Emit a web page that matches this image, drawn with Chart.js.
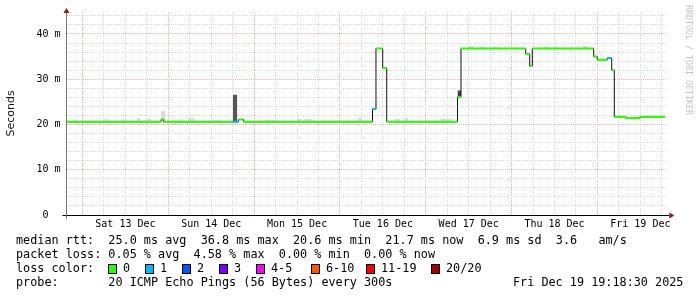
<!DOCTYPE html>
<html><head><meta charset="utf-8">
<script src="https://cdn.jsdelivr.net/npm/chart.js@4.4.1/dist/chart.umd.min.js"></script>
<style>html,body{margin:0;padding:0;background:#fff;overflow:hidden}</style>
</head><body>
<canvas id="c" width="697" height="297"></canvas>
<script>
// ---- data (time in hours since Sat 13 Dec 00:00, values in ms) ----
const xMin = -4.47;
const xMax = 163.53;
const dayLabels = ['Sat 13 Dec','Sun 14 Dec','Mon 15 Dec','Tue 16 Dec','Wed 17 Dec','Thu 18 Dec','Fri 19 Dec'];
const yTickValues = [0, 10, 20, 30, 40];
const yTickLabels = ['0  ', '10 m', '20 m', '30 m', '40 m'];

const stepStart  = [-4.4, 21.95, 22.65, 42.09, 43.62, 45.08, 81.1, 82.07, 83.95, 85.07, 104.87, 105.84, 123.93, 125.06, 125.78, 142.95, 143.96, 146.76, 147.99, 148.71, 151.99, 155.9];
const stepMedian = [20.6, 21.1, 20.6, 20.6, 21.1, 20.6, 23.4, 36.8, 32.5, 20.6, 26.1, 36.8, 35.6, 32.9, 36.8, 35.0, 34.3, 34.7, 32.0, 21.7, 21.4, 21.7];
const stepLoss   = [0, 0, 0, 1, 0, 0, 1, 0, 0, 0, 0, 0, 0, 0, 0, 0, 0, 1, 0, 0, 0, 0];
const dataEnd = 162.9;

const smokeStart = [-2.74, 6.10, 11.33, 15.24, 18.04, 21.95, 21.95, 25.31, 27.27, 29.5, 37.05, 51.03, 60.18, 61.94, 77.04, 87.11, 90.18, 99.97, 107.8, 111.1, 115.0, 129.0, 131.8, 139.9, 155.3, 42.09, 104.87];
const smokeEnd   = [-1.82, 7.05, 12.16, 16.08, 19.16, 23.07, 23.07, 26.15, 28.1, 31.18, 38.17, 53.27, 61.1, 64.18, 78.16, 88.79, 91.02, 103.33, 109.2, 112.0, 116.1, 130.1, 132.9, 141.1, 156.2, 43.29, 105.84];
const smokeLow   = [20.6, 20.6, 20.6, 20.6, 20.6, 20.6, 20.8, 20.6, 20.6, 20.6, 20.6, 20.6, 20.6, 20.6, 20.6, 20.6, 20.6, 20.6, 36.8, 36.8, 36.8, 36.8, 36.8, 36.8, 21.4, 20.6, 26.1];
const smokeHigh  = [21.0, 21.2, 21.2, 21.5, 21.2, 23.0, 22.2, 21.0, 21.2, 21.5, 21.0, 21.0, 21.2, 21.2, 21.5, 21.2, 21.5, 21.2, 37.4, 37.2, 37.2, 37.2, 37.2, 37.4, 21.9, 26.6, 27.5];
const smokeDensity = [1, 1, 1, 1, 1, 1, 2, 1, 1, 1, 1, 1, 1, 1, 1, 1, 1, 1, 1, 1, 1, 1, 1, 1, 1, 3, 4];

const lossLabels = ['0', '1', '2', '3', '4-5', '6-10', '11-19', '20/20'];
const lossColors = ['#26ff00', '#00b8ff', '#0059ff', '#7e00ff', '#ff00ff', '#ff5500', '#ff0000', '#a00000'];

const statsLines = [
  'median rtt:  25.0 ms avg  36.8 ms max  20.6 ms min  21.7 ms now  6.9 ms sd  3.6   am/s',
  'packet loss: 0.05 % avg  4.58 % max  0.00 % min  0.00 % now',
  'loss color:',
  'probe:       20 ICMP Echo Pings (56 Bytes) every 300s'
];
const stampText = 'Fri Dec 19 19:18:30 2025';
const yTitle = 'Seconds';
const watermark = 'RRDTOOL / TOBI OETIKER';

// ---- styles ----
const smokeShades = {1: '#dcdcdc', 2: '#a8a8a8', 3: '#555555', 4: '#404040'};
const minorGrid = '#d8d8d8';
const majorGrid = '#eab2b2';
const MONO = '"DejaVu Sans Mono", monospace';

// ---- build datasets ----
const stepEnd = stepStart.map((s, i) => i + 1 < stepStart.length ? stepStart[i + 1] : dataEnd);
const coloredPts = [];
stepStart.forEach((s, i) => {
  coloredPts.push({x: s, y: stepMedian[i]}, {x: stepEnd[i], y: stepMedian[i]}, {x: stepEnd[i], y: null});
});
const blackPts = stepStart.map((s, i) => ({x: s, y: stepMedian[i]}));
blackPts.push({x: dataEnd, y: stepMedian[stepMedian.length - 1]});

const datasets = [
  {
    label: 'median', data: coloredPts, borderWidth: 2, pointRadius: 0, spanGaps: false,
    borderCapStyle: 'butt', fill: false, borderColor: lossColors[0],
    segment: { borderColor: ctx => lossColors[stepLoss[Math.floor(ctx.p0DataIndex / 3)]] }
  },
  {
    label: 'medianStep', data: blackPts, stepped: true, borderWidth: 1, pointRadius: 0,
    borderColor: '#111', fill: false
  }
];
[1, 2, 3, 4].forEach(d => {
  const lo = [], hi = [];
  smokeStart.forEach((s, i) => {
    if (smokeDensity[i] !== d) return;
    lo.push({x: s, y: smokeLow[i]}, {x: smokeEnd[i], y: smokeLow[i]}, {x: smokeEnd[i], y: null});
    hi.push({x: s, y: smokeHigh[i]}, {x: smokeEnd[i], y: smokeHigh[i]}, {x: smokeEnd[i], y: null});
  });
  if (!lo.length) return;
  datasets.push({label: 'smokeHi' + d, data: hi, borderWidth: 0, pointRadius: 0, spanGaps: false,
    fill: '+1', backgroundColor: smokeShades[d], borderColor: 'rgba(0,0,0,0)'});
  datasets.push({label: 'smokeLo' + d, data: lo, borderWidth: 0, pointRadius: 0, spanGaps: false,
    fill: false, borderColor: 'rgba(0,0,0,0)'});
});

// ---- decorations plugin ----
const deco = {
  id: 'deco',
  afterDraw(chart) {
    const ctx = chart.ctx, a = chart.chartArea;
    ctx.save();
    // axis extensions
    ctx.strokeStyle = '#000'; ctx.lineWidth = 1;
    ctx.beginPath(); ctx.moveTo(a.left - 4, Math.round(a.bottom) + 0.5); ctx.lineTo(a.right + 2, Math.round(a.bottom) + 0.5); ctx.stroke();
    ctx.strokeStyle = '#777';
    ctx.beginPath(); ctx.moveTo(Math.floor(a.left) + 0.5, a.bottom); ctx.lineTo(Math.floor(a.left) + 0.5, a.bottom + 4); ctx.stroke();
    ctx.beginPath(); ctx.moveTo(Math.floor(a.left) + 0.5, a.top); ctx.lineTo(Math.floor(a.left) + 0.5, a.top - 1); ctx.stroke();
    // arrows
    ctx.fillStyle = '#8b1a1a';
    const ax = Math.floor(a.left) + 0.5;
    ctx.beginPath(); ctx.moveTo(ax - 3, a.top + 1); ctx.lineTo(ax + 3, a.top + 1); ctx.lineTo(ax, a.top - 4); ctx.closePath(); ctx.fill();
    const ay = Math.round(a.bottom) + 0.5;
    ctx.beginPath(); ctx.moveTo(a.right + 2, ay - 3); ctx.lineTo(a.right + 2, ay + 3); ctx.lineTo(a.right + 7, ay); ctx.closePath(); ctx.fill();
    // y title
    ctx.fillStyle = '#111';
    ctx.font = '11px "DejaVu Sans", sans-serif';
    ctx.textAlign = 'center'; ctx.textBaseline = 'middle';
    ctx.save(); ctx.translate(11, (a.top + a.bottom) / 2 + 0); ctx.rotate(-Math.PI / 2); ctx.fillText(yTitle, 0, 0); ctx.restore();
    // watermark
    ctx.fillStyle = '#c4c4c4';
    ctx.font = '8.3px ' + MONO;
    ctx.save(); ctx.translate(688, 5); ctx.rotate(Math.PI / 2); ctx.textAlign = 'left'; ctx.fillText(watermark, 0, 0); ctx.restore();
    // legend block
    ctx.fillStyle = '#000';
    ctx.font = '11.8px ' + MONO;
    ctx.textAlign = 'left'; ctx.textBaseline = 'middle';
    const ys = [241, 255, 269, 283];
    statsLines.forEach((t, i) => ctx.fillText(t, 16, ys[i]));
    ctx.fillText(stampText, 513, ys[3]);
    const boxX = [108, 145, 182, 219, 256, 311, 366, 431];
    lossLabels.forEach((l, i) => {
      ctx.fillStyle = lossColors[i];
      ctx.fillRect(boxX[i] + 0.5, 264.5, 8, 9);
      ctx.strokeStyle = '#000'; ctx.lineWidth = 1;
      ctx.strokeRect(boxX[i] + 0.5, 264.5, 8, 9);
      ctx.fillStyle = '#000';
      ctx.fillText(l, boxX[i] + 15, ys[2]);
    });
    ctx.restore();
  }
};

new Chart(document.getElementById('c'), {
  type: 'line',
  data: { datasets },
  plugins: [deco],
  options: {
    responsive: false, animation: false, devicePixelRatio: 1,
    layout: { padding: { top: 12, right: 29.7, left: 0, bottom: 0 } },
    plugins: { legend: { display: false }, tooltip: { enabled: false } },
    elements: { line: { tension: 0 } },
    scales: {
      x: {
        type: 'linear', min: xMin, max: xMax,
        afterFit(s) { s.height = 82; },
        afterBuildTicks(s) {
          const t = [];
          for (let h = Math.ceil(xMin / 6) * 6; h <= xMax; h += 6) t.push({value: h});
          s.ticks = t;
        },
        ticks: {
          autoSkip: false, maxRotation: 0, padding: 3, color: '#000',
          font: { family: MONO, size: 10 },
          callback(v) { return (((v % 24) + 24) % 24 === 12) ? dayLabels[Math.floor(v / 24)] : ''; }
        },
        grid: { drawTicks: false, lineWidth: 1,
          color: c => (c.tick && ((c.tick.value % 24) + 24) % 24 === 0) ? majorGrid : minorGrid },
        border: { display: true, color: '#000', width: 1, dash: [1, 1] }
      },
      y: {
        type: 'linear', min: 0, max: 44.86,
        afterFit(s) { s.width = 66.5; },
        afterBuildTicks(s) {
          const t = [];
          for (let v = 0; v <= 44; v += 2) t.push({value: v});
          s.ticks = t;
        },
        ticks: {
          autoSkip: false, padding: 6, color: '#000', font: { family: MONO, size: 10 },
          callback(v) { const i = yTickValues.indexOf(v); return i >= 0 ? yTickLabels[i] : ''; }
        },
        grid: { drawTicks: false, lineWidth: 1,
          color: c => (!c.tick || c.tick.value === 0) ? 'rgba(0,0,0,0)' : (c.tick.value % 10 === 0 ? majorGrid : minorGrid) },
        border: { display: true, color: '#777', width: 1, dash: [1, 1] }
      }
    }
  }
});
</script>
</body></html>
